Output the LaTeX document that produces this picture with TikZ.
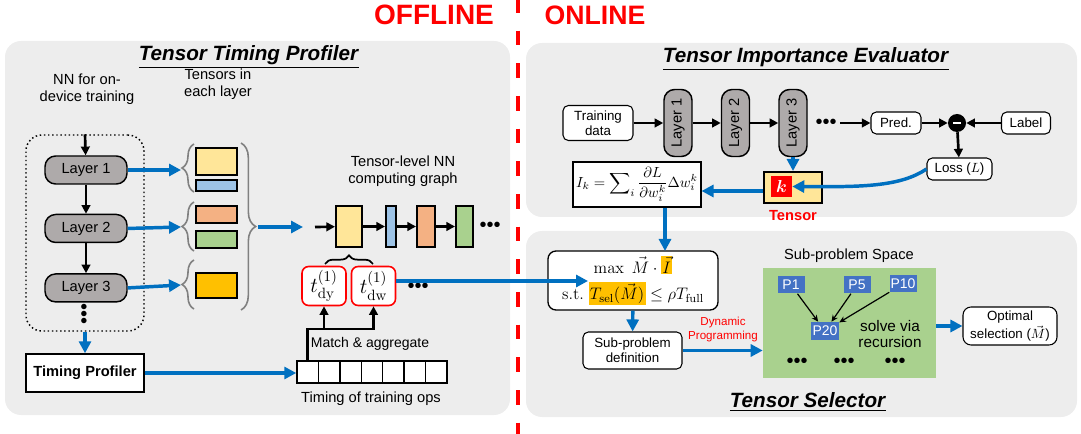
\RequirePackage{fix-cm}
\documentclass[tikz,border=0pt]{standalone}
\usepackage{amsmath}
\usepackage{amssymb}
\usepackage[no-math]{fontspec}
\setmainfont{Liberation Sans}
\usetikzlibrary{positioning, arrows.meta, calc, decorations.pathreplacing}
\definecolor{panelgray}{HTML}{EDEDED}
\definecolor{flowblue}{HTML}{0070C0}
\definecolor{layergray}{HTML}{AEAAAA}
\definecolor{tyellow}{HTML}{FFE699}
\definecolor{tblue}{HTML}{9DC3E6}
\definecolor{torange}{HTML}{F4B183}
\definecolor{tgreen}{HTML}{A9D18E}
\definecolor{tgold}{HTML}{FFC000}
\definecolor{pblue}{HTML}{4472C4}
\definecolor{linered}{HTML}{FF0000}
\newcommand{\PanelTitle}[1]{\underline{\textbf{\textit{#1}}}}
\newcommand{\Hl}[1]{{\setlength{\fboxsep}{1pt}\colorbox{tgold}{$#1$}}}
\tikzset{
    panelbox/.style={fill=panelgray, rounded corners=12pt},
    flowarrow/.style={draw=flowblue, line width=2.6pt, -{Triangle[length=9pt, width=9pt]}},
    blackarrow/.style={line width=2pt, -{Triangle[length=6.5pt, width=6.5pt]}},
    thinarrow/.style={line width=0.9pt, -{Stealth[length=5pt, width=4.5pt]}},
    layerbox/.style={draw, line width=1.1pt, fill=layergray, rounded corners=8pt, inner sep=0pt,
                     font=\fontsize{11}{12}\selectfont},
    plainbox/.style={draw, line width=0.8pt, fill=white, rounded corners=4pt, align=center, inner sep=0pt,
                     font=\fontsize{10}{11.5}\selectfont},
    tensor/.style={draw, line width=1.5pt, inner sep=0pt},
    greybrace/.style={draw=gray, line width=1.2pt, decorate, decoration={brace, amplitude=#1}},
    panel title/.style={font=\fontsize{15.5}{18}\selectfont},
}
\begin{document}
\begin{tikzpicture}[x=0.75pt, y=-0.75pt]
    \tikzset{
      every node/.append style={font=\fontsize{11}{12.5}\selectfont},
      tbox/.style={draw=linered, line width=1.2pt, fill=white, rounded corners=5pt,
                   minimum width=33pt, minimum height=29.25pt, inner sep=0pt,
                   font=\fontsize{16}{18}\selectfont},
      pbox/.style={fill=pblue, text=white, inner sep=0pt, minimum width=20.25pt, minimum height=12.75pt,
                   font=\fontsize{10.5}{12}\selectfont},
      dots/.style={font=\fontsize{15}{15}\selectfont, inner sep=0pt},
    }
    \useasboundingbox (0,0) rectangle (1081,434);

    % panels and the offline / online split
    \fill[panelbox] (5,41) rectangle (510,415);
    \fill[panelbox] (526,43) rectangle (1077,217);
    \fill[panelbox] (526,231) rectangle (1077,417);
    \draw[linered, line width=3.5pt, dash pattern=on 11pt off 13.5pt] (518,-2) -- (518,436);
    \node[font=\fontsize{21}{21}\selectfont\bfseries, text=linered] (offline) at (434,15) {OFFLINE};
    \node[font=\fontsize{20}{21}\selectfont\bfseries, text=linered] (online) at (595,15) {ONLINE};

    \node[panel title] (t1) at (249,57) {\PanelTitle{Tensor Timing Profiler}};
    \node[panel title] (t2) at (806,59) {\PanelTitle{Tensor Importance Evaluator}};
    \node[panel title] (t3) at (808,402) {\PanelTitle{Tensor Selector}};

    % offline: timing profiler
    \node[align=center] (nnlabel) at (87,89) {NN for on-\\device training};
    \node[align=center] (tenlabel) at (218,84) {Tensors in\\each layer};
    \node[draw, dotted, line width=1.1pt, rounded corners=12pt, minimum width=88.5pt,
          minimum height=147pt] (nnbox) at (85,233) {};

    \node[layerbox, minimum width=61.5pt, minimum height=21pt] (l1) at (86,170) {Layer 1};
    \node[layerbox, minimum width=61.5pt, minimum height=21pt, below=21.75pt of l1] (l2) {Layer 2};
    \node[layerbox, minimum width=61.5pt, minimum height=21pt, below=22.5pt of l2] (l3) {Layer 3};
    \node[dots, rotate=90] (ldots) at (86,314) {\textbullet\textbullet\textbullet};

    \draw[blackarrow] (nnbox.north) -- (l1);
    \draw[blackarrow] (l1) -- (l2);
    \draw[blackarrow] (l2) -- (l3);

    \node[draw, line width=1.1pt, fill=white, minimum width=88.5pt, minimum height=28.5pt,
          font=\fontsize{11}{12}\selectfont\bfseries] (prof) at (85,373) {Timing Profiler};
    \draw[flowarrow] (nnbox.south) -- (prof);

    \node[tensor, fill=tyellow, minimum width=30.75pt, minimum height=20.25pt] (y1) at (216.5,161.5) {};
    \node[tensor, fill=tblue, minimum width=30.75pt, minimum height=8.25pt] (y2) at (216.5,185.5) {};
    \node[tensor, fill=torange, minimum width=30.75pt, minimum height=12.75pt] (y3) at (216.5,214.5) {};
    \node[tensor, fill=tgreen, minimum width=30.75pt, minimum height=12.75pt] (y4) at (216.5,239.5) {};
    \node[tensor, fill=tgold, minimum width=30.75pt, minimum height=18.75pt] (y5) at (216.5,285.5) {};

    \draw[greybrace=9pt] (194,192) -- (194,144);
    \draw[greybrace=9pt] (194,251) -- (194,202);
    \draw[greybrace=9pt] (194,309) -- (194,260);
    \draw[greybrace=11pt] (241,143) -- (241,310);

    \coordinate (b1) at (181,170);
    \coordinate (b2) at (181,227);
    \coordinate (b3) at (181,285);
    \draw[flowarrow] (l1.east) -- (b1);
    \draw[flowarrow] (l2.east) -- (b2);
    \draw[flowarrow] (l3.east) -- (b3);

    \node[align=center] (glabel) at (403,171) {Tensor-level NN\\computing graph};
    \coordinate (bigtip) at (258,227);
    \coordinate (gin) at (303,227);
    \coordinate (gstart) at (315,227);
    \draw[flowarrow] (bigtip) -- (gin);

    \node[tensor, fill=tyellow, minimum width=19.5pt, minimum height=30.75pt] (g1) at (349,226.5) {};
    \node[tensor, fill=tblue, minimum width=7.5pt, minimum height=30.75pt, right=16.5pt of g1] (g2) {};
    \node[tensor, fill=torange, minimum width=13.5pt, minimum height=30.75pt, right=14.25pt of g2] (g3) {};
    \node[tensor, fill=tgreen, minimum width=12.75pt, minimum height=30.75pt, right=14.25pt of g3] (g4) {};
    \node[dots] (gdots) at (490,227) {\textbullet\textbullet\textbullet};

    \draw[blackarrow] (gstart) -- (g1);
    \draw[blackarrow] (g1) -- (g2);
    \draw[blackarrow] (g2) -- (g3);
    \draw[blackarrow] (g3) -- (g4);

    \draw[line width=1.3pt, decorate, decoration={brace, amplitude=6.5pt}] (325,264) -- (373,264);
    \node[tbox] (tdy) at (324,286) {$t_{\mathrm{dy}}^{(1)}$};
    \node[tbox] (tdw) at (373.5,286) {$t_{\mathrm{dw}}^{(1)}$};
    \node[dots] (tdots) at (418,288) {\textbullet\textbullet\textbullet};

    \foreach \i in {0,...,6}
      \node[draw, line width=1.1pt, fill=white, minimum width=16.07pt, minimum height=16.5pt,
            inner sep=0pt] (c\i) at ({307.7+21.43*\i},372) {};
    \draw[flowarrow] (prof.east) -- (prof.east -| c0.west);

    \coordinate (mrow) at (0,329);
    \draw[blackarrow, line width=2.2pt] (c0.north) |- (tdw.south |- mrow) -- (tdw.south);
    \draw[blackarrow, line width=2.2pt] (tdy.south |- mrow) -- (tdy.south);
    \node[font=\fontsize{10.5}{12}\selectfont] (magg) at (370,344) {Match \& aggregate};
    \node (tops) at (371,399) {Timing of training ops};

    % online: importance evaluator
    \node[plainbox, minimum width=52.5pt, minimum height=26.25pt] (train) at (598,123) {Training\\data};
    \node[layerbox, rotate=90, minimum width=50.25pt, minimum height=21pt] (v1) at (678,123) {Layer 1};
    \node[layerbox, rotate=90, minimum width=50.25pt, minimum height=21pt] (v2) at (735.5,123) {Layer 2};
    \node[layerbox, rotate=90, minimum width=50.25pt, minimum height=21pt] (v3) at (793,123) {Layer 3};
    \node[dots] (vdots) at (826,124) {\textbullet\textbullet\textbullet};
    \coordinate (vout) at (840,123);

    \node[plainbox, minimum width=37.5pt, minimum height=16.5pt] (pred) at (896,123) {Pred.};
    \node[circle, fill=black, minimum size=13.5pt, inner sep=0pt] (diff) at (957,123)
         {\textcolor{white}{\rule{6pt}{1.8pt}}};
    \node[plainbox, minimum width=36.75pt, minimum height=16.5pt] (lab) at (1026,123) {Label};
    \node[plainbox, minimum width=48.75pt, minimum height=16.5pt] (loss) at (959.5,169) {Loss ($L$)};

    \draw[blackarrow] (train) -- (v1);
    \draw[blackarrow] (v1) -- (v2);
    \draw[blackarrow] (v2) -- (v3);
    \draw[blackarrow] (vout) -- (pred);
    \draw[blackarrow] (pred) -- (diff);
    \draw[blackarrow] (lab) -- (diff);
    \draw[blackarrow] (diff) -- (loss);

    \node[tensor, fill=tyellow, minimum width=43.5pt, minimum height=23.25pt] (tens) at (793,187.5) {};
    \node[fill=linered, minimum size=15.75pt, inner sep=0pt, text=white, font=\fontsize{13}{14}\selectfont]
         (kbox) at (781.5,186.5) {$\boldsymbol{k}$};
    \node[below=1pt of tens, text=linered, font=\fontsize{11}{12}\selectfont\bfseries] (tenname) {Tensor};

    \draw[flowarrow] (v3) -- (tens);
    \draw[flowarrow] (loss.west) .. controls (900,187) and (860,187) .. (kbox.east);

    \node[draw, line width=0.8pt, fill=white, minimum width=96pt, minimum height=33.75pt, inner sep=0pt,
          font=\fontsize{11}{13}\selectfont]
         (imp) at (637,184.5) {$I_k=\displaystyle\sum\nolimits_i \frac{\partial L}{\partial w_i^k}\Delta w_i^k$};
    \draw[flowarrow] (tens.west |- 0,191) -- (imp.east |- 0,191);

    % online: tensor selector
    \node[plainbox, rounded corners=6pt, line width=1pt, minimum width=127.5pt, minimum height=44.25pt,
          font=\fontsize{12.5}{20}\selectfont] (opt) at (633,280.5)
         {$\max\ \vec{M}\cdot\Hl{\vec{I}}$\\
          $\mathrm{s.t.}\ \Hl{T_{\mathrm{sel}}(\vec{M})}\le\rho T_{\mathrm{full}}$};
    \coordinate (ipt) at (665,251);
    \coordinate (tselpt) at (588,281);
    \draw[flowarrow] (imp.south -| ipt) -- (ipt);
    \draw[flowarrow] (tdw.east |- tselpt) -- (tselpt);

    \node[plainbox, minimum width=74.25pt, minimum height=27.75pt] (subdef) at (632.5,350.5)
         {Sub-problem\\definition};
    \draw[flowarrow] (opt) -- (subdef);

    \node[fill=tgreen, minimum width=129.75pt, minimum height=82.5pt, inner sep=0pt] (space) at (849.5,323) {};
    \node (spacelabel) at (849,256) {Sub-problem Space};
    \draw[flowarrow] (subdef.east) -- (subdef.east -| space.west);
    \node[align=center, text=linered, font=\fontsize{8.7}{10.5}\selectfont] (dp) at (723,330)
         {Dynamic\\Programming};

    \node[pbox] (p1) at (791,285) {P1};
    \node[pbox] (p5) at (857,285) {P5};
    \node[pbox] (p10) at (903,284) {P10};
    \node[pbox, minimum width=21pt, minimum height=13.5pt] (p20) at (825,331) {P20};
    \draw[thinarrow] (p1) -- (p20);
    \draw[thinarrow] (p5) -- (p20);
    \draw[thinarrow] (p10) -- (p20);
    \node[align=center, font=\fontsize{11.5}{12.5}\selectfont] (solve) at (890,334) {solve via\\recursion};
    \node[dots] (sd1) at (797,363) {\textbullet\textbullet\textbullet};
    \node[dots] (sd2) at (844,363) {\textbullet\textbullet\textbullet};
    \node[dots] (sd3) at (895,363) {\textbullet\textbullet\textbullet};

    \node[plainbox, rounded corners=6pt, minimum width=70.5pt, minimum height=28.5pt,
          font=\fontsize{10}{13.5}\selectfont] (best) at (1010,326)
         {Optimal\\selection ($\vec{M}$)};
    \draw[flowarrow] (space.east |- best) -- (best);
\end{tikzpicture}
\end{document}
